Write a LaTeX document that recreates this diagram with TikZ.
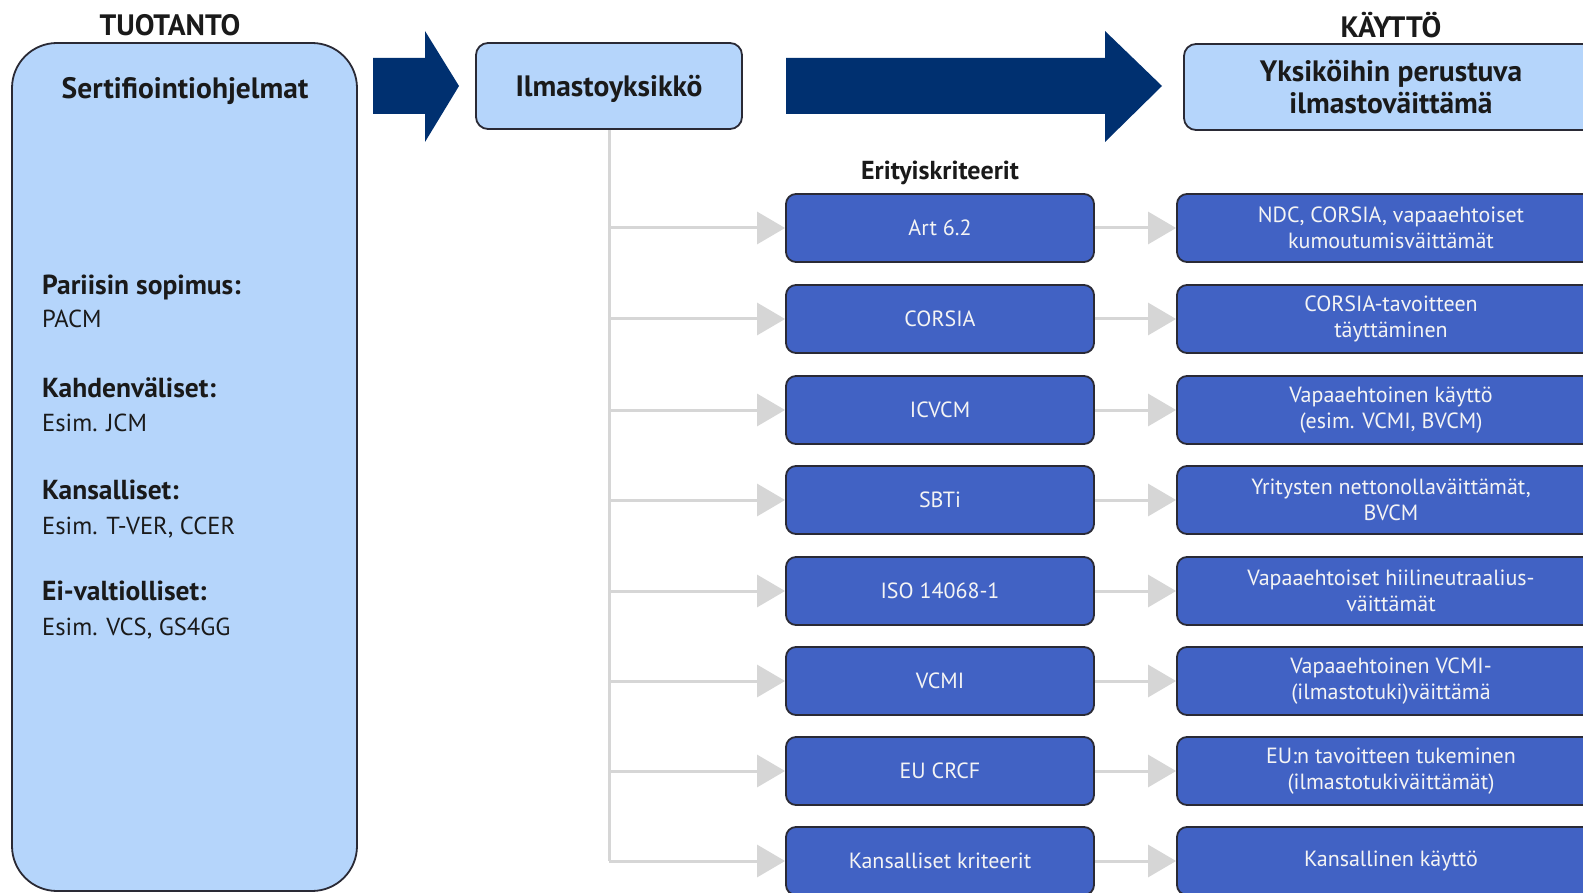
\documentclass[tikz,border=0pt]{standalone}
\usepackage{fontspec}
\setmainfont{PT Sans}
\usetikzlibrary{arrows.meta}
\definecolor{lightbox}{HTML}{B5D5FB}
\definecolor{midbox}{HTML}{4162C4}
\definecolor{navyarrow}{HTML}{003070}
\definecolor{connc}{HTML}{D6D6D6}
\definecolor{edgec}{HTML}{2A2A35}
\definecolor{txtc}{HTML}{1A1A1A}
\definecolor{wtxt}{HTML}{F4F4F4}
\begin{document}
\begin{tikzpicture}[x=1pt,y=-1pt,
  lightnode/.style={draw=edgec, line width=1.8pt, fill=lightbox, rounded corners=12pt, inner sep=0pt},
  bluebox/.style={draw=edgec, line width=1.8pt, fill=midbox, rounded corners=10pt, minimum height=68pt, inner sep=0pt, text=wtxt, font=\fontsize{22}{26.5}\selectfont, align=center},
  midcol/.style={bluebox, minimum width=308pt},
  rightcol/.style={bluebox, minimum width=428pt},
  connline/.style={draw=connc, line width=3pt},
  connarrow/.style={connline, -{Triangle[length=28pt,width=32pt]}},
  headtxt/.style={font=\bfseries\fontsize{29.5}{32.5}\selectfont, text=txtc, align=center, inner sep=0pt},
  subhead/.style={font=\bfseries\fontsize{26}{30}\selectfont, text=txtc, inner sep=0pt},
  listb/.style={font=\bfseries\fontsize{27.5}{30}\selectfont, text=txtc, inner sep=0pt, anchor=base west},
  listr/.style={font=\fontsize{24.6}{30}\selectfont, text=txtc, inner sep=0pt, anchor=base west},
  bigarrow/.style={fill=navyarrow}
]
\useasboundingbox (0,0) rectangle (1583,893);
\clip (0,0) rectangle (1583,893);

% left column
\node[lightnode, rounded corners=45pt, minimum width=345pt, minimum height=848pt] (prog) at (184.5,467) {};
\node[headtxt] (tuotanto) at (170,25) {TUOTANTO};
\node[headtxt, text depth=0pt] (sert) at (185,88) {Sertifiointiohjelmat};
\node[listb] (l1) at (42,295) {Pariisin sopimus:};
\node[listr] (l2) at (42,328) {PACM};
\node[listb] (l3) at (42,397) {Kahdenväliset:};
\node[listr] (l4) at (42,431) {Esim. JCM};
\node[listb] (l5) at (42,499) {Kansalliset:};
\node[listr] (l6) at (42,534) {Esim. T-VER, CCER};
\node[listb] (l7) at (42,600) {Ei-valtiolliset:};
\node[listr] (l8) at (42,635) {Esim. VCS, GS4GG};

% big arrows
\fill[bigarrow] (373,58) -- (425,58) -- (425,31) -- (459,86) -- (425,142) -- (425,114) -- (373,114) -- cycle;
\fill[bigarrow] (786,58) -- (1105,58) -- (1105,31) -- (1162,86) -- (1105,142) -- (1105,114) -- (786,114) -- cycle;

% top boxes
\node[lightnode, minimum width=266pt, minimum height=86pt, headtxt, text depth=0pt] (ilm) at (609,86) {Ilmastoyksikkö};
\node[lightnode, minimum width=414pt, minimum height=86pt, headtxt] (claim) at (1391,87) {Yksiköihin perustuva\\ilmastoväittämä};
\node[headtxt] (kaytto) at (1391,25) {KÄYTTÖ};
\node[subhead] (erit) at (940,173) {Erityiskriteerit};

% middle column
\node[midcol] (m1) at (940,228) {Art 6.2};
\node[midcol] (m2) at (940,319) {CORSIA};
\node[midcol] (m3) at (940,410) {ICVCM};
\node[midcol] (m4) at (940,500) {SBTi};
\node[midcol] (m5) at (940,591) {ISO 14068-1};
\node[midcol] (m6) at (940,681) {VCMI};
\node[midcol] (m7) at (940,771) {EU CRCF};
\node[midcol] (m8) at (940,861) {Kansalliset kriteerit};

% right column
\node[rightcol] (r1) at (1391,228) {NDC, CORSIA, vapaaehtoiset\\kumoutumisväittämät};
\node[rightcol] (r2) at (1391,319) {CORSIA-tavoitteen\\täyttäminen};
\node[rightcol] (r3) at (1391,410) {Vapaaehtoinen käyttö\\(esim. VCMI, BVCM)};
\node[rightcol] (r4) at (1391,500) {Yritysten nettonollaväittämät,\\BVCM};
\node[rightcol] (r5) at (1391,591) {Vapaaehtoiset hiilineutraalius-\\väittämät};
\node[rightcol] (r6) at (1391,681) {Vapaaehtoinen VCMI-\\(ilmastotuki)väittämä};
\node[rightcol] (r7) at (1391,771) {EU:n tavoitteen tukeminen\\(ilmastotukiväittämät)};
\node[rightcol] (r8) at (1391,861) {Kansallinen käyttö};

% connectors
\draw[connline] (ilm.south) -- (ilm.south |- m8.west);
\foreach \i in {1,...,8}{
  \draw[connarrow] (ilm.south |- m\i.west) -- (m\i.west);
  \draw[connarrow] (m\i.east) -- (r\i.west);
}
\end{tikzpicture}
\end{document}
